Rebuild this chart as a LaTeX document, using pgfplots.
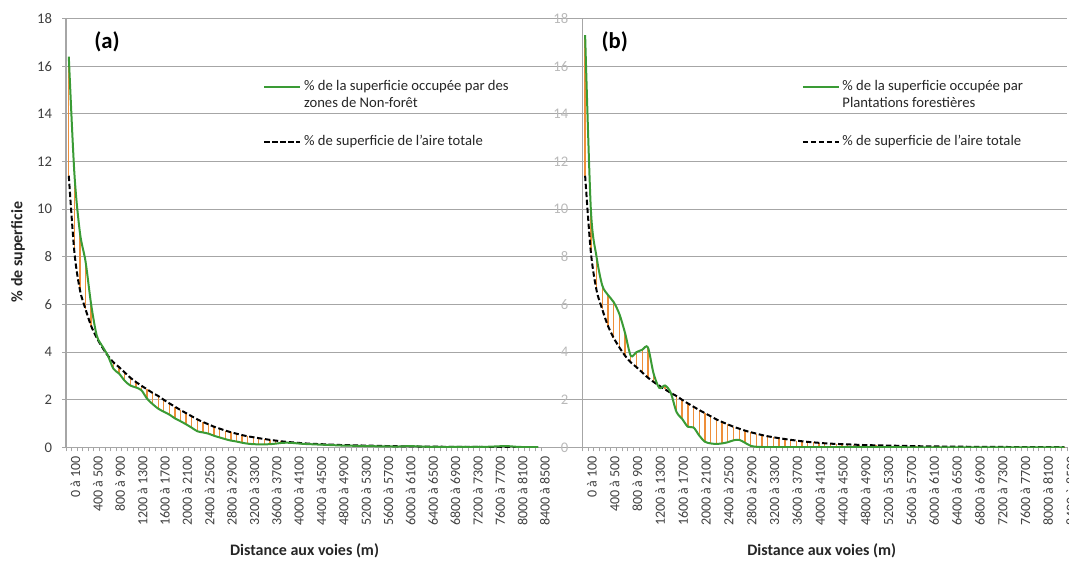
\documentclass[border=0pt]{standalone}
\usepackage{pgfplots}
\pgfplotsset{compat=1.18}
\usepackage{pgfplotstable}
\usepackage{fontspec}
\setmainfont{Carlito}

\definecolor{gridc}{HTML}{A6A6A6}
\definecolor{greenc}{HTML}{3A9B35}
\definecolor{orangec}{HTML}{EE8F3A}
\definecolor{tickc}{HTML}{404040}
\definecolor{txtc}{HTML}{262626}

\pgfplotstableread{
x t a b
0 11.4 16.4 17.3
1 8.2 11.5 10.0
2 6.6 9.0 8.0
3 5.8 7.8 6.8
4 5.1 6.0 6.4
5 4.6 4.7 6.1
6 4.2 4.25 5.6
7 3.85 3.85 4.8
8 3.57 3.3 3.85
9 3.37 3.1 4.0
10 3.15 2.8 4.1
11 2.93 2.6 4.2
12 2.75 2.52 3.1
13 2.59 2.4 2.5
14 2.44 2.05 2.6
15 2.29 1.82 2.3
16 2.16 1.63 1.5
17 2.0 1.5 1.2
18 1.85 1.38 0.87
19 1.71 1.22 0.84
20 1.57 1.1 0.5
21 1.44 0.97 0.24
22 1.31 0.83 0.17
23 1.18 0.68 0.15
24 1.07 0.63 0.17
25 0.97 0.58 0.22
26 0.87 0.49 0.3
27 0.79 0.42 0.32
28 0.71 0.35 0.2
29 0.64 0.29 0.07
30 0.58 0.25 0.03
31 0.52 0.2 0.02
32 0.47 0.16 0.01
33 0.43 0.14 0.01
34 0.39 0.13 0.01
35 0.355 0.13 0.01
36 0.32 0.14 0.01
37 0.29 0.16 0.01
38 0.26 0.19 0.01
39 0.235 0.2 0.01
40 0.215 0.19 0.01
41 0.195 0.17 0.01
42 0.175 0.15 0.01
43 0.16 0.14 0.01
44 0.15 0.13 0.01
45 0.14 0.12 0.01
46 0.13 0.11 0.01
47 0.12 0.1 0.01
48 0.11 0.09 0.01
49 0.1 0.08 0.01
50 0.095 0.08 0.01
51 0.09 0.07 0.01
52 0.085 0.07 0.01
53 0.08 0.06 0.01
54 0.075 0.06 0.01
55 0.07 0.05 0.01
56 0.065 0.05 0.01
57 0.06 0.05 0.005
58 0.055 0.04 0.005
59 0.05 0.04 0.005
60 0.048 0.05 0.005
61 0.045 0.06 0.005
62 0.042 0.05 0.005
63 0.04 0.04 0.005
64 0.038 0.03 0.005
65 0.035 0.03 0.005
66 0.033 0.03 0.005
67 0.03 0.02 0.005
68 0.028 0.02 0.005
69 0.027 0.02 0.005
70 0.025 0.02 0.005
71 0.024 0.02 0.005
72 0.022 0.02 0.005
73 0.021 0.03 0.005
74 0.02 0.03 0.005
75 0.019 0.03 0.005
76 0.018 0.04 0.005
77 0.017 0.05 0.005
78 0.016 0.06 0.005
79 0.015 0.05 0.005
80 0.014 0.03 0.005
81 0.013 0.02 0.005
82 0.012 0.01 0.005
83 0.011 0.01 0.005
84 0.01 0.01 0.005
}\data

\pgfplotsset{
  panel/.style={
    scale only axis, height=321.75pt, anchor=south west,
    xmin=-0.5, xmax=84.5, ymin=0, ymax=18,
    axis x line*=bottom, axis y line*=left,
    axis line style={gridc, line width=0.8pt},
    ytick={0,2,...,18},
    ymajorgrids, grid style={gridc, line width=0.8pt},
    tick align=outside, major tick length=3pt,
    tick style={gridc, line width=0.7pt},
    xtick={-0.5,0.5,...,84.5}, xticklabels={},
    extra x ticks={0,4,...,84},
    extra x tick labels={0 à 100,400 à 500,800 à 900,1200 à 1300,1600 à 1700,2000 à 2100,2400 à 2500,2800 à 2900,3200 à 3300,3600 à 3700,4000 à 4100,4400 à 4500,4800 à 4900,5200 à 5300,5600 à 5700,6000 à 6100,6400 à 6500,6800 à 6900,7200 à 7300,7600 à 7700,8000 à 8100,8400 à 8500},
    extra x tick style={tick style={draw=none},
      xticklabel style={rotate=90, anchor=east, yshift=-5pt, font=\fontsize{10.5}{11}\selectfont, text=tickc}},
    /pgf/number format/assume math mode=true,
    yticklabel style={font=\fontsize{11}{12}\selectfont, text=tickc, xshift=-4pt},
    legend image code/.code={\draw[#1] (0pt,3pt) -- (27pt,3pt);},
    legend style={anchor=north west, draw=none, fill=none, inner sep=0pt,
      font=\fontsize{11}{12.5}\selectfont, text=txtc,
      row sep=28pt, column sep=0pt, cells={anchor=base west}},
    reverse legend,
  },
  orangebars/.style={forget plot, draw=none, mark=none,
    error bars/.cd, y dir=both, y explicit, error mark=none,
    error bar style={orangec, line width=1pt}},
}

\begin{document}
\begin{tikzpicture}
\useasboundingbox (0,0) rectangle (801.75pt,421.5pt);

\begin{axis}[panel, at={(49.5pt,85.9pt)}, width=356.25pt,
  legend style={at={(0.415,0.865)}}]
\addplot[orangebars] table[x=x, y=t,
  y error plus expr={max(\thisrow{a}-\thisrow{t},0)},
  y error minus expr={max(\thisrow{t}-\thisrow{a},0)}] {\data};
\addplot[black, line width=1.5pt, dash pattern=on 4pt off 2pt, smooth, tension=0.5] table[x=x, y=t] {\data};
\addlegendentry{\% de superficie de l'aire totale}
\addplot[greenc, line width=1.5pt, smooth, tension=0.5] table[x=x, y=a] {\data};
\addlegendentry{\begin{tabular}[t]{@{}l@{}}\% de la superficie occupée par des\\zones de Non-forêt\end{tabular}}
\end{axis}

\foreach \v in {0,2,...,18} {
  \draw[gridc, line width=0.8pt] (405.75pt,{85.9pt+\v*17.875pt}) -- (436.7pt,{85.9pt+\v*17.875pt});
}

\begin{axis}[panel, at={(436.7pt,85.9pt)}, width=363.75pt,
  yticklabel style={text=gray!55},
  legend style={at={(0.452,0.865)}}]
\addplot[orangebars] table[x=x, y=t,
  y error plus expr={max(\thisrow{b}-\thisrow{t},0)},
  y error minus expr={max(\thisrow{t}-\thisrow{b},0)}] {\data};
\addplot[black, line width=1.5pt, dash pattern=on 4pt off 2pt, smooth, tension=0.5] table[x=x, y=t] {\data};
\addlegendentry{\% de superficie de l'aire totale}
\addplot[greenc, line width=1.5pt, smooth, tension=0.5] table[x=x, y=b] {\data};
\addlegendentry{\begin{tabular}[t]{@{}l@{}}\% de la superficie occupée par\\Plantations forestières\end{tabular}}
\end{axis}

\node[font=\fontsize{17}{20}\selectfont\bfseries] at (80.25pt,390pt) {(a)};
\node[font=\fontsize{17}{20}\selectfont\bfseries] at (461pt,390pt) {(b)};
\node[rotate=90, font=\fontsize{12}{14}\selectfont\bfseries, text=txtc] at (13.5pt,232.5pt) {\% de superficie};
\node[font=\fontsize{12}{14}\selectfont\bfseries, text=txtc] at (228.4pt,8.5pt) {Distance aux voies (m)};
\node[font=\fontsize{12}{14}\selectfont\bfseries, text=txtc] at (616.3pt,8.5pt) {Distance aux voies (m)};
\end{tikzpicture}
\end{document}
